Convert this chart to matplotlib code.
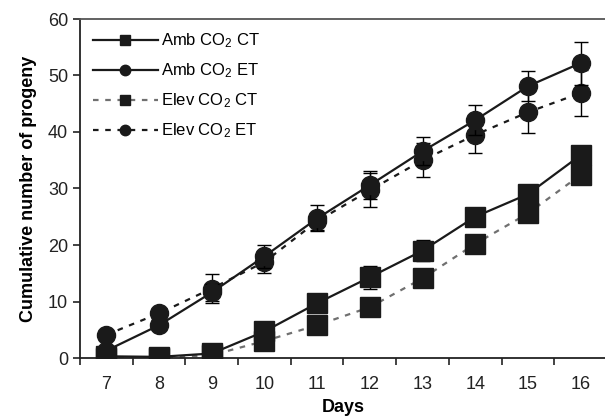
import matplotlib
matplotlib.use("Agg")
import matplotlib.pyplot as plt
from matplotlib.lines import Line2D
import numpy as np

plt.rcParams['font.family'] = ['Liberation Sans', 'DejaVu Sans']
plt.rcParams['mathtext.fontset'] = 'custom'
plt.rcParams['mathtext.rm'] = 'Liberation Sans'
plt.rcParams['mathtext.it'] = 'Liberation Sans:italic'
plt.rcParams['mathtext.bf'] = 'Liberation Sans:bold'

days = [7, 8, 9, 10, 11, 12, 13, 14, 15, 16]
amb_ct = [0.3, 0.2, 0.8, 4.7, 9.7, 14.3, 19.0, 25.0, 29.0, 35.9]
amb_ct_err = [0.5, 0.3, 0.5, 1.0, 1.5, 2.0, 1.8, 1.5, 1.5, 1.5]
amb_et = [1.3, 5.8, 11.6, 18.0, 24.7, 30.6, 36.6, 42.1, 48.1, 52.2]
amb_et_err = [0.8, 0.8, 1.5, 2.0, 2.3, 2.5, 2.5, 2.7, 2.7, 3.8]
elev_ct = [0.0, 0.0, 0.5, 3.0, 5.8, 9.0, 14.1, 20.2, 25.6, 32.4]
elev_ct_err = [0.3, 0.3, 0.4, 0.8, 0.8, 0.8, 0.8, 0.8, 1.0, 1.2]
elev_et = [4.1, 7.9, 12.3, 17.0, 24.2, 29.7, 35.0, 39.5, 43.5, 46.9]
elev_et_err = [0.5, 0.5, 2.5, 2.0, 1.5, 3.0, 3.0, 3.2, 3.7, 4.0]
labels = ['Amb CO$_\\mathregular{2}$ CT', 'Amb CO$_\\mathregular{2}$ ET',
          'Elev CO$_\\mathregular{2}$ CT', 'Elev CO$_\\mathregular{2}$ ET']

fig = plt.figure(figsize=(6.05, 4.19), dpi=100)
ax = fig.add_axes([80/605, 1 - 358/419, 527/605, (358-19)/419])

x = np.array(days)
lw = 1.6
ms_sq = 14
ms_ci = 13
dash = (0, (2.5, 3))
ekw = dict(ecolor='black', elinewidth=1.0, capsize=5, capthick=1.0)
dark = '#1a1a1a'
gray = '#707070'

ax.errorbar(x, elev_ct, yerr=elev_ct_err, color=gray, ls=dash, lw=lw,
            marker='s', ms=ms_sq, mfc=dark, mec=dark, zorder=2, **ekw)
ax.errorbar(x, amb_ct, yerr=amb_ct_err, color=dark, ls='-', lw=lw,
            marker='s', ms=ms_sq, mfc=dark, mec=dark, zorder=3, **ekw)
ax.errorbar(x, elev_et, yerr=elev_et_err, color=dark, ls=dash, lw=lw,
            marker='o', ms=ms_ci, mfc=dark, mec=dark, zorder=2, **ekw)
ax.errorbar(x, amb_et, yerr=amb_et_err, color=dark, ls='-', lw=lw,
            marker='o', ms=ms_ci, mfc=dark, mec=dark, zorder=3, **ekw)

ax.set_xlim(6.5, 16.5)
ax.set_ylim(0, 60)
ax.set_yticks(np.arange(0, 61, 10))
ax.set_xticks(days)
ax.set_xticks(np.arange(6.5, 17, 1), minor=True)
ax.tick_params(axis='x', which='major', length=0, labelsize=13, pad=13, colors='#222222')
ax.tick_params(axis='x', which='minor', length=5, width=1.2, direction='out', colors='#222222')
ax.tick_params(axis='y', which='major', length=5, width=1.2, direction='out', labelsize=13, colors='#222222')

for s in ['left', 'bottom']:
    ax.spines[s].set_linewidth(1.3)
    ax.spines[s].set_color('#222222')
ax.spines['top'].set_linewidth(1.3)
ax.spines['top'].set_color('#555555')
ax.spines['right'].set_visible(False)

ax.set_xlabel('Days', fontsize=13, fontweight='bold', labelpad=4)
ax.set_ylabel('Cumulative number of progeny', fontsize=13, fontweight='bold', labelpad=8)

handles = [
    Line2D([], [], color=dark, ls='-', lw=lw, marker='s', ms=7.5, mfc=dark, mec=dark),
    Line2D([], [], color=dark, ls='-', lw=lw, marker='o', ms=7.5, mfc=dark, mec=dark),
    Line2D([], [], color=gray, ls=dash, lw=lw, marker='s', ms=7.5, mfc=dark, mec=dark),
    Line2D([], [], color=dark, ls=dash, lw=lw, marker='o', ms=7.5, mfc=dark, mec=dark),
]
ax.legend(handles, labels, loc='upper left', bbox_to_anchor=(0.0, 1.0), frameon=False,
          fontsize=12, handlelength=3.9, handletextpad=0.2, labelspacing=0.68,
          borderaxespad=0.35)

fig.savefig('out.png', dpi=100)
